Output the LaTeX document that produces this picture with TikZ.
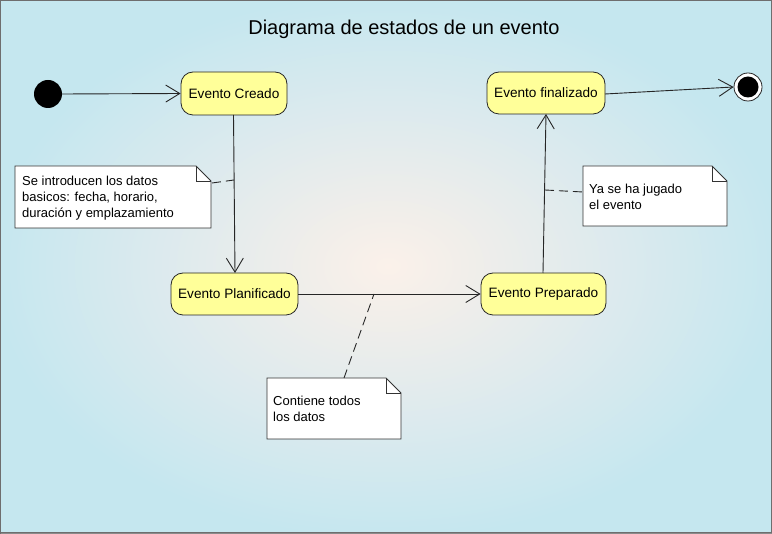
\documentclass[tikz,border=0pt]{standalone}
\usepackage{fontspec}
\setmainfont{Liberation Sans}
\usetikzlibrary{arrows.meta,shapes.misc}
\definecolor{bgblue}{HTML}{C5E7EF}
\definecolor{bgcenter}{HTML}{FBF1EA}
\definecolor{bgmid}{HTML}{F1EEEA}
\definecolor{bgmid2}{HTML}{DCEAEE}
\definecolor{stateyellow}{HTML}{FFFF99}
\definecolor{framegray}{HTML}{6E6E6E}
\pgfdeclareradialshading{bgshade}{\pgfpoint{0bp}{0bp}}{color(0bp)=(bgcenter); color(3bp)=(bgmid); color(9bp)=(bgmid2); color(15.5bp)=(bgblue); color(50bp)=(bgblue)}
\tikzset{
  statebox/.style={rectangle, rounded corners=12pt, draw=black!85, fill=stateyellow, line width=0.8pt, inner sep=0pt, font=\fontsize{13.6}{15}\selectfont},
  trans/.style={draw=black!85, line width=0.9pt, -{Straight Barb[length=14pt,width=17pt,line width=0.9pt]}},
  notelink/.style={draw=black!85, line width=0.9pt, dash pattern=on 9pt off 5pt},
  notetext/.style={anchor=north west, align=left, inner sep=0pt, font=\fontsize{13}{16}\selectfont},
}
\newcommand{\notebox}[5]{% name, x1, y1, x2, y2
  \fill[white, draw=black!80, line width=0.8pt] (#2,#3) -- ({#4-15},#3) -- (#4,{#3+15}) -- (#4,#5) -- (#2,#5) -- cycle;
  \draw[black!80, line width=0.8pt] ({#4-15},#3) -- ({#4-15},{#3+15}) -- (#4,{#3+15});
  \coordinate (#1) at (#2,#3);
}
\begin{document}
\begin{tikzpicture}[x=1pt,y=-1pt]
\useasboundingbox (0,0) rectangle (772,534);
% background
\fill[bgblue] (0,0) rectangle (772,534);
\begin{scope}
  \clip (0,0) rectangle (772,534);
  \shade[shading=bgshade] (388,266) ellipse (640 and 440);
\end{scope}
\draw[framegray, line width=1.2pt] (0.6,0.6) rectangle (771.4,533.0);
\draw[framegray!80, line width=1pt] (1,533.5) -- (771.5,533.5);

% title
\node[font=\fontsize{20}{23}\selectfont] (title) at (404,29) {Diagrama de estados de un evento};

% states
\node[statebox, minimum width=106pt, minimum height=43pt] (creado) at (234,93.5) {Evento Creado};
\node[statebox, minimum width=118pt, minimum height=42pt] (final) at (546,93) {Evento finalizado};
\node[statebox, minimum width=127pt, minimum height=42pt] (planif) at (234.5,294) {Evento Planificado};
\node[statebox, minimum width=125pt, minimum height=42pt] (prep) at (543.5,294) {Evento Preparado};

% pseudo states
\node[circle, fill=black, minimum size=28pt, inner sep=0pt] (init) at (48,94) {};
\node[circle, draw=black!85, fill=white, line width=0.8pt, minimum size=28pt, inner sep=0pt] (end) at (748,87) {};
\node[circle, fill=black, minimum size=21pt, inner sep=0pt] (endin) at (748,87) {};

% notes
\notebox{n1}{15}{166}{211}{228}
\node[notetext] (n1t) at (22,175.5) {Se introducen los datos\\basicos: fecha, horario,\\duración y emplazamiento};
\notebox{n2}{583}{166}{727}{226}
\node[notetext] (n2t) at (589,183.5) {Ya se ha jugado\\el evento};
\notebox{n3}{267}{378}{401}{439}
\node[notetext] (n3t) at (273,395.5) {Contiene todos\\los datos};

% transitions
\draw[trans] (init.east) -- (creado.west);
\coordinate (c1) at (233.5,115);
\coordinate (c2) at (235,273);
\draw[trans] (c1) -- (c2);
\draw[trans] (planif.east) -- (prep.west);
\coordinate (p1) at (543,273);
\coordinate (p2) at (546,114);
\draw[trans] (p1) -- (p2);
\coordinate (f1) at (605,94);
\draw[trans] (f1) -- (end.west);

% note links
\coordinate (l1a) at (212,183);
\coordinate (l1b) at (234,180);
\draw[notelink] (l1a) -- (l1b);
\coordinate (l2a) at (545,190);
\coordinate (l2b) at (583,192);
\draw[notelink] (l2a) -- (l2b);
\coordinate (l3a) at (344,378);
\coordinate (l3b) at (374,294);
\draw[notelink] (l3a) -- (l3b);
\end{tikzpicture}
\end{document}
